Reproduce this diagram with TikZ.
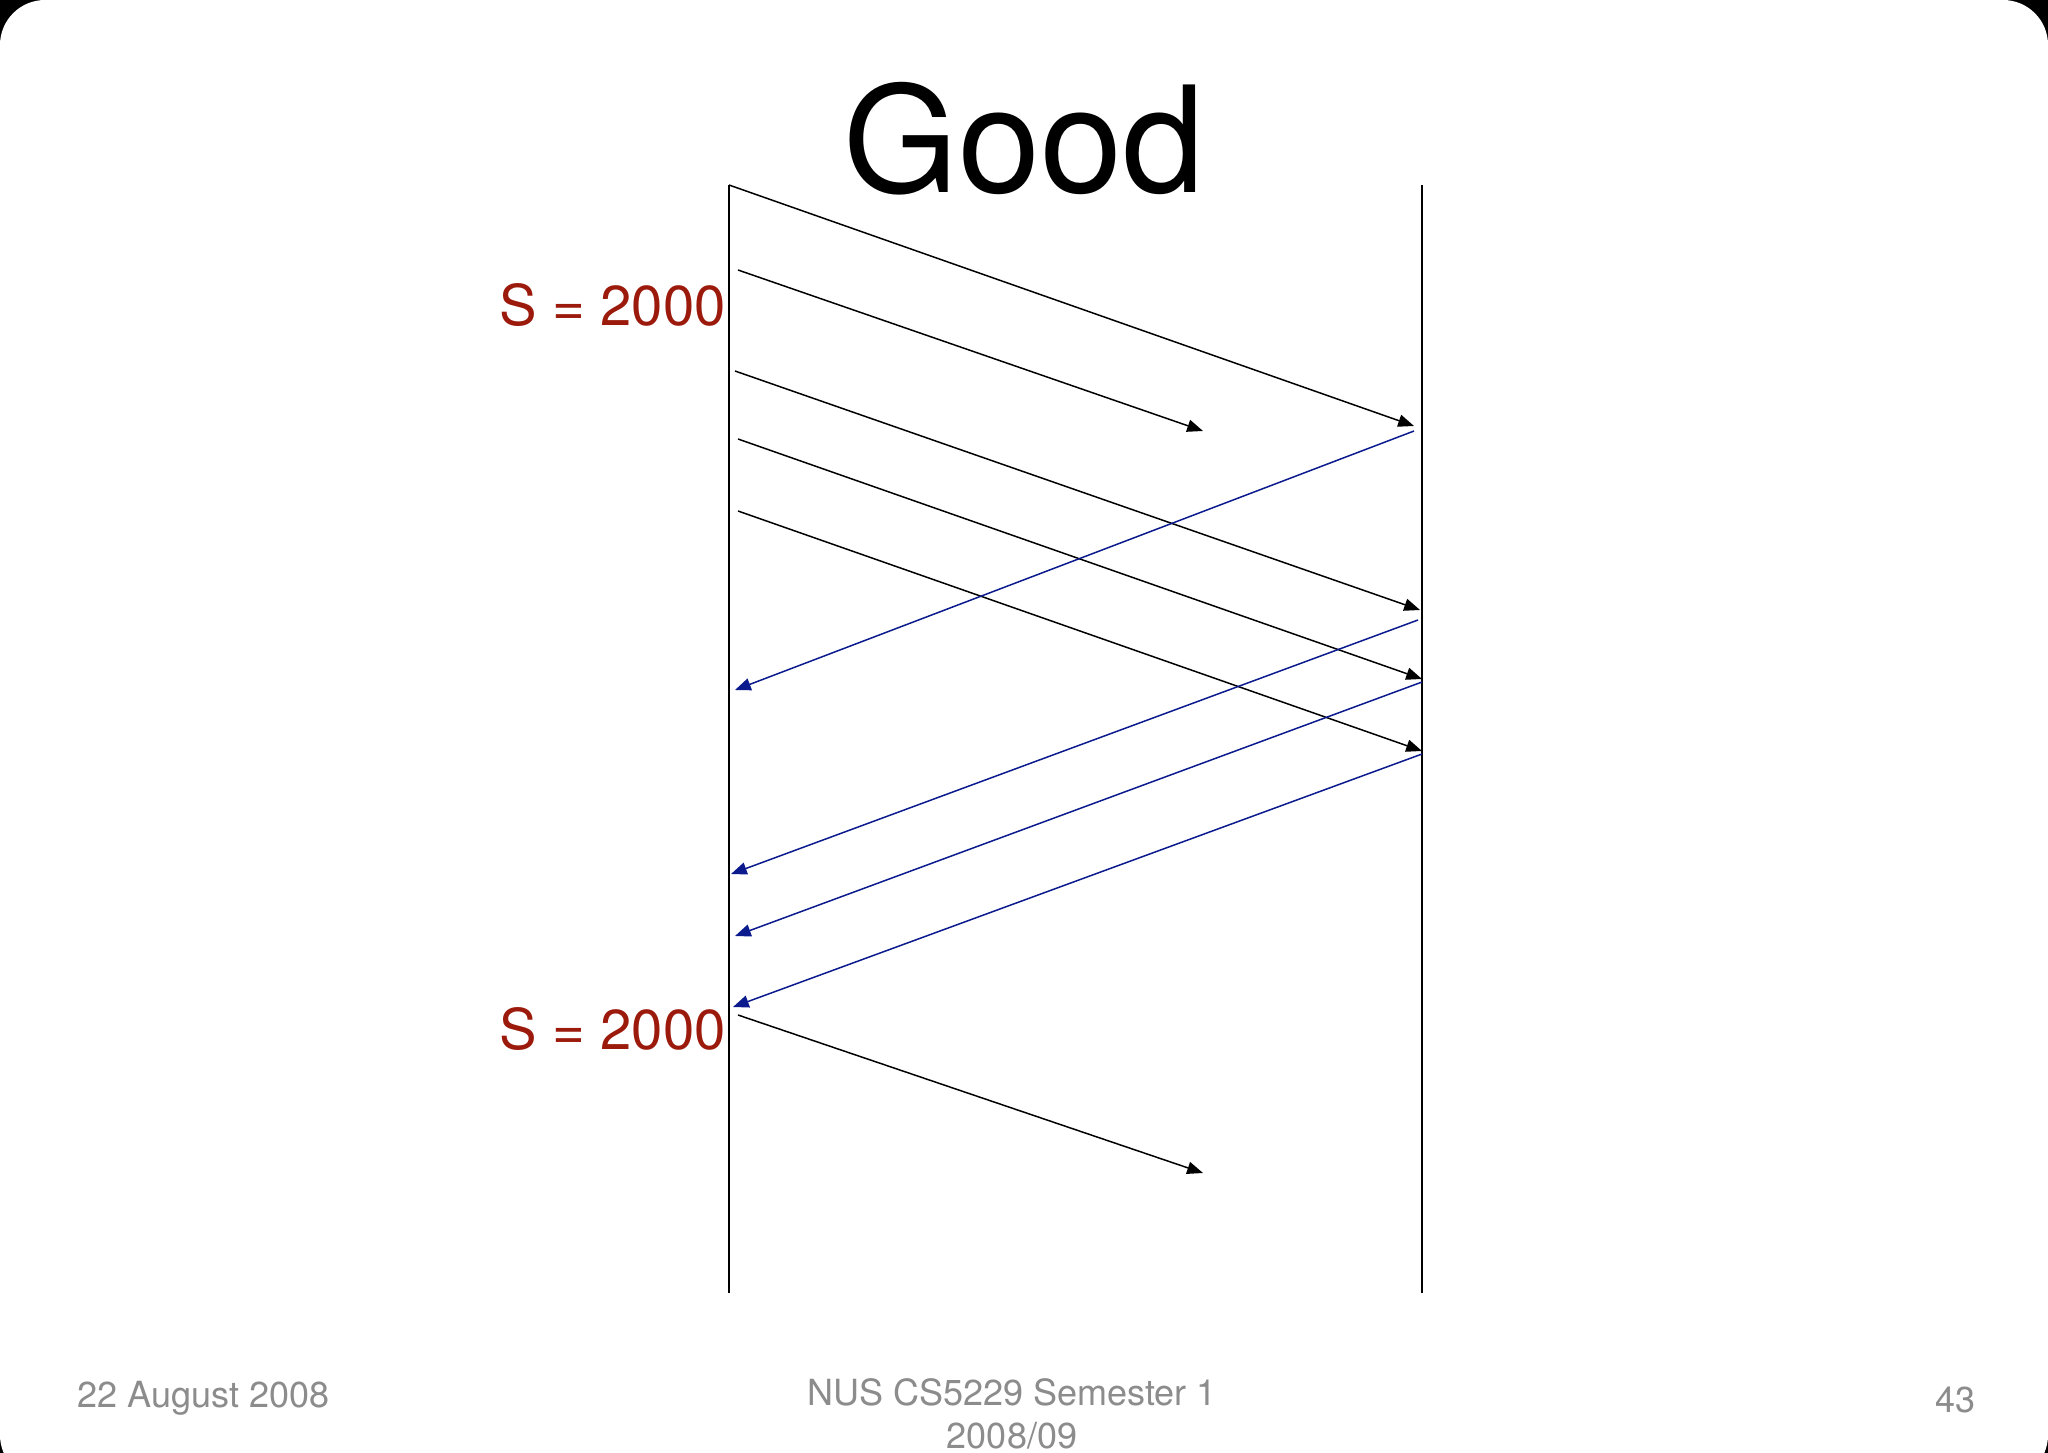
\documentclass[tikz,border=0pt]{standalone}
\usepackage{fontspec}
\setmainfont{TeX Gyre Heros}
\usetikzlibrary{positioning}
\usetikzlibrary{arrows.meta, calc}
\definecolor{seqred}{HTML}{9B1A0C}
\definecolor{ackblue}{HTML}{0B1B8E}
\definecolor{footgray}{HTML}{8C8C8C}

\begin{document}
\begin{tikzpicture}[x=0.02cm, y=-0.02cm, >={Triangle[length=9pt,width=7pt]}]%

            \tikzstyle{post} = [ ->, line width = 0.85pt, draw = black]
            \tikzstyle{ack} = [ ->, line width = 0.85pt, draw = ackblue, fill = ackblue]
            \tikzstyle{tline} = [ line width = 0.9pt, draw = black]
            \tikzstyle{seq} = [ text = seqred, font = \fontsize{32}{38}\selectfont, inner sep = 0pt, anchor = base east]
            \tikzstyle{foot} = [ text = footgray, font = \fontsize{20.5}{24.4}\selectfont, inner sep = 0pt]
        %%
            %% Slide background
            \clip (0,0) rectangle (2048,1453);
            \fill[black] (0,0) rectangle (2048,1453);
            \fill[white, rounded corners = 0.9cm] (0,0) rectangle (2048,1480);

            %% Title
            \node [inner sep = 0pt, anchor = base, font = \fontsize{84}{100}\selectfont] (title) at (1024,193) {Good};

            %% Time lines
            \coordinate (snd_top) at (729,185);
            \coordinate (snd_bot) at (729,1293);
            \coordinate (rcv_top) at (1422,185);
            \coordinate (rcv_bot) at (1422,1293);
            \draw[tline] (snd_top) -- (snd_bot);
            \draw[tline] (rcv_top) -- (rcv_bot);

            %% Data segments
            \coordinate (d1_s) at (729,185);
            \coordinate (d1_r) at (1414,426);
            \coordinate (d2_s) at (738,270);
            \coordinate (d2_r) at (1203,431);
            \coordinate (d3_s) at (735,371);
            \coordinate (d3_r) at (1420,610);
            \coordinate (d4_s) at (738,439);
            \coordinate (d4_r) at (1422,679);
            \coordinate (d5_s) at (738,511);
            \coordinate (d5_r) at (1422,751);
            \coordinate (d6_s) at (738,1015);
            \coordinate (d6_r) at (1203,1173);

            \draw[post] (d1_s) -- (d1_r);
            \draw[post] (d2_s) -- (d2_r);
            \draw[post] (d3_s) -- (d3_r);
            \draw[post] (d4_s) -- (d4_r);
            \draw[post] (d5_s) -- (d5_r);
            \draw[post] (d6_s) -- (d6_r);

            %% Acks
            \coordinate (a1_r) at (1414,431);
            \coordinate (a1_s) at (735,690);
            \coordinate (a2_r) at (1418,620);
            \coordinate (a2_s) at (731,874);
            \coordinate (a3_r) at (1422,682);
            \coordinate (a3_s) at (735,936);
            \coordinate (a4_r) at (1422,754);
            \coordinate (a4_s) at (733,1007);

            \draw[ack] (a1_r) -- (a1_s);
            \draw[ack] (a2_r) -- (a2_s);
            \draw[ack] (a3_r) -- (a3_s);
            \draw[ack] (a4_r) -- (a4_s);

            %% Labels
            \node [seq] (s_first) at (726,325) {S = 2000};
            \node [seq] (s_second) at (726,1049) {S = 2000};

            %% Footer
            \node [foot, anchor = base west] (date) at (77,1407) {22 August 2008};
            \node [foot, anchor = base, align = center] (course) at (1012,1448) {NUS CS5229 Semester 1\\2008/09};
            \node [foot, anchor = base east] (page) at (1976,1412) {43};

        \end{tikzpicture}
\end{document}
